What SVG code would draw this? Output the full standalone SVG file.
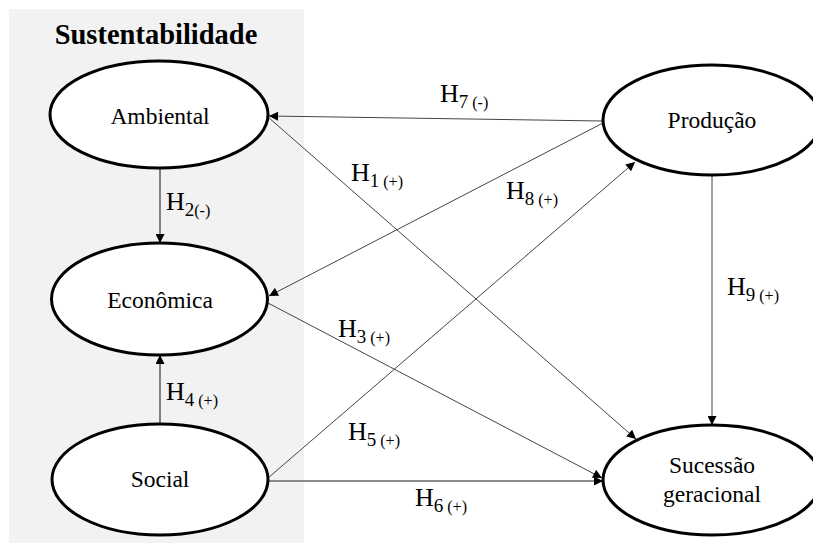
<svg xmlns="http://www.w3.org/2000/svg" width="813" height="545" viewBox="0 0 813 545">
<defs>
<marker id="arr" viewBox="0 0 10 10" refX="10" refY="5" markerWidth="11" markerHeight="9" markerUnits="userSpaceOnUse" orient="auto">
<path d="M0,0 L10,5 L0,10 Z" fill="#000"/>
</marker>
<style>
text{font-family:'Liberation Serif','Times New Roman',serif;fill:#000}
.node ellipse{fill:#fff;stroke:#000;stroke-width:3}
.node text{font-size:23.5px;text-anchor:middle}
.conn line{stroke:#444;stroke-width:1;marker-end:url(#arr)}
.conn line.v{stroke:#666;stroke-width:1.6}
.lbl{font-size:26px}
.sd{font-size:19px}
.sp{font-size:16px}
</style>
</defs>
<rect x="9" y="9" width="295" height="534" fill="#f2f2f2"/>
<text x="156" y="44" font-family="Liberation Serif, Times New Roman, serif" font-size="28.5" font-weight="bold" text-anchor="middle">Sustentabilidade</text>
<g class="conn">
<line x1="602" y1="121" x2="269" y2="116"/>
<line x1="268" y1="117" x2="636" y2="439"/>
<line x1="603" y1="123" x2="269" y2="296"/>
<line x1="268" y1="303" x2="602" y2="478"/>
<line x1="268" y1="478" x2="635" y2="162"/>
<line class="v" x1="268" y1="481" x2="603" y2="481"/>
<line class="v" x1="160" y1="168" x2="160" y2="243"/>
<line class="v" x1="160" y1="424" x2="160" y2="355"/>
<line x1="712" y1="175" x2="712" y2="425"/>
</g>
<g id="ambiental" class="node" font-family="Liberation Serif, serif"><ellipse cx="159" cy="114.5" rx="109" ry="53.5"/><text x="160" y="124">Ambiental</text></g>
<g id="economica" class="node" font-family="Liberation Serif, serif"><ellipse cx="159.5" cy="299" rx="108" ry="56"/><text x="160" y="308">Econômica</text></g>
<g id="social" class="node" font-family="Liberation Serif, serif"><ellipse cx="160" cy="479.5" rx="108" ry="55.5"/><text x="160" y="487">Social</text></g>
<g id="producao" class="node" font-family="Liberation Serif, serif"><ellipse cx="712" cy="120" rx="109" ry="55"/><text x="712" y="128">Produção</text></g>
<g id="sucessao" class="node" font-family="Liberation Serif, serif"><ellipse cx="712" cy="480" rx="109" ry="55"/><text x="712" y="473">Sucessão</text><text x="712" y="502">geracional</text></g>
<g id="labels" font-family="Liberation Serif, serif">
<text class="lbl" x="440" y="102">H<tspan class="sd" dy="6">7</tspan><tspan class="sp"> (-)</tspan></text>
<text class="lbl" x="351" y="181">H<tspan class="sd" dy="6">1</tspan><tspan class="sp"> (+)</tspan></text>
<text class="lbl" x="506" y="199">H<tspan class="sd" dy="6">8</tspan><tspan class="sp"> (+)</tspan></text>
<text class="lbl" x="166" y="210">H<tspan class="sd" dy="6">2</tspan><tspan class="sp">(-)</tspan></text>
<text class="lbl" x="338" y="337">H<tspan class="sd" dy="6">3</tspan><tspan class="sp"> (+)</tspan></text>
<text class="lbl" x="166" y="400">H<tspan class="sd" dy="6">4</tspan><tspan class="sp"> (+)</tspan></text>
<text class="lbl" x="348" y="440">H<tspan class="sd" dy="6">5</tspan><tspan class="sp"> (+)</tspan></text>
<text class="lbl" x="415" y="506">H<tspan class="sd" dy="6">6</tspan><tspan class="sp"> (+)</tspan></text>
<text class="lbl" x="727" y="295">H<tspan class="sd" dy="6">9</tspan><tspan class="sp"> (+)</tspan></text>
</g>
</svg>
